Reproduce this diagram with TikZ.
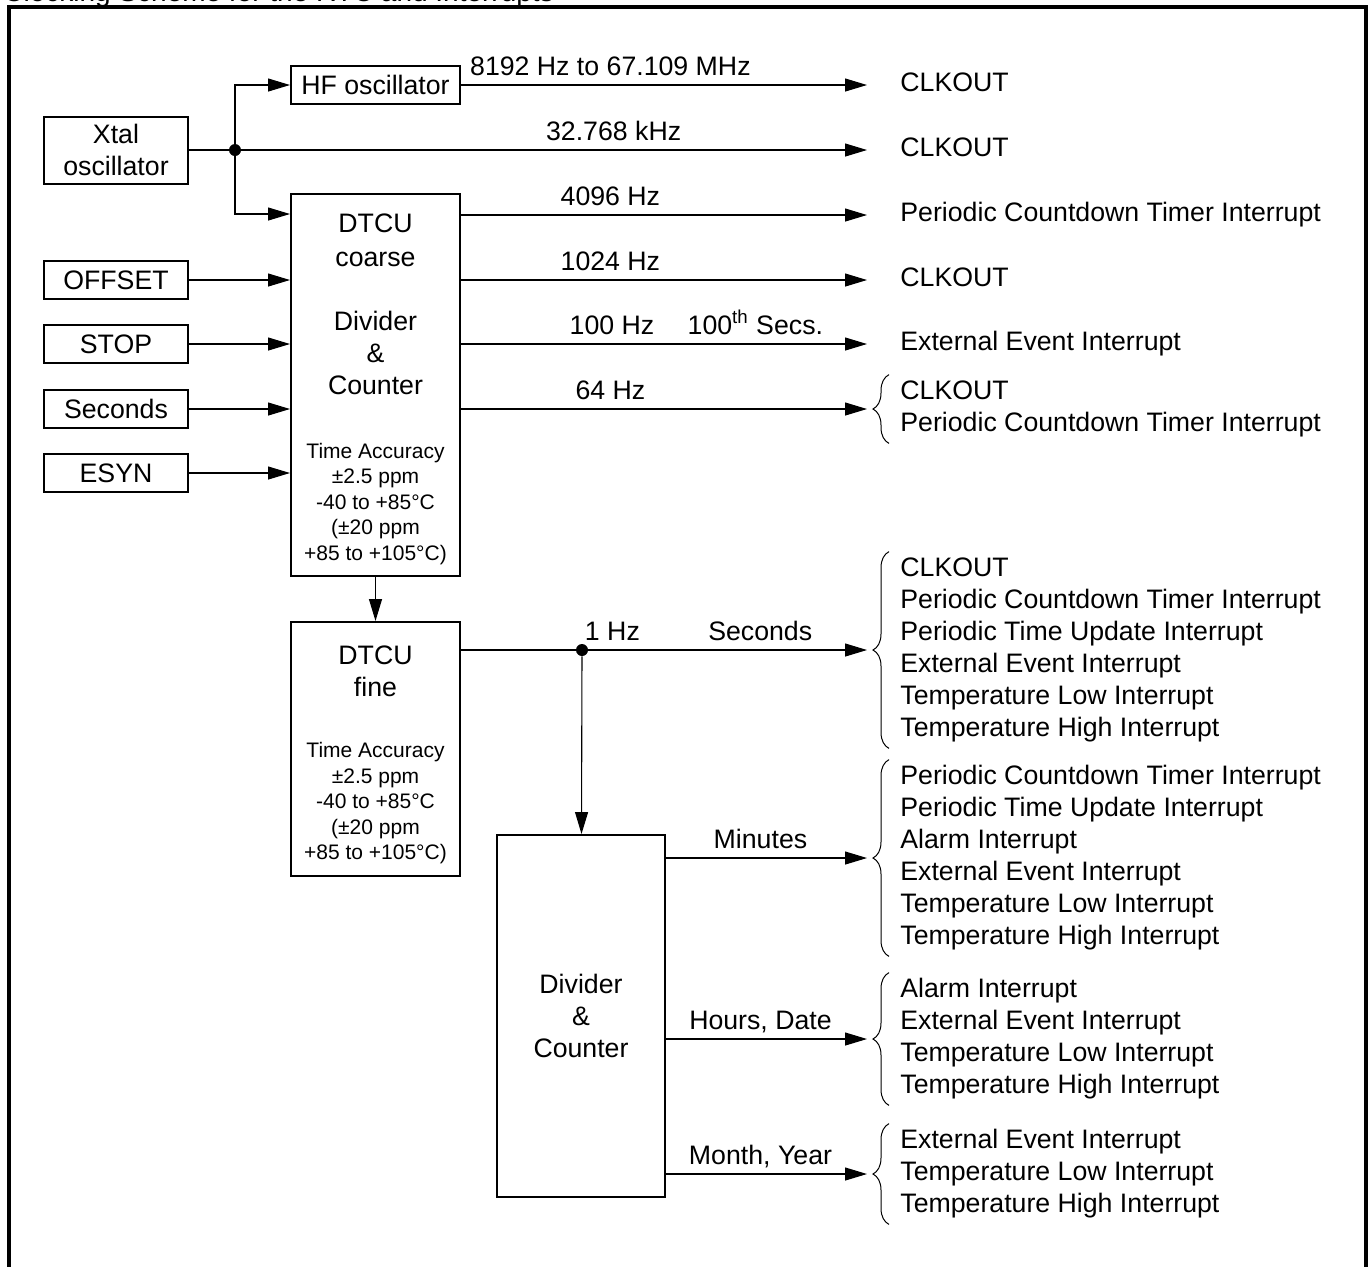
\documentclass[tikz,border=0pt]{standalone}
\usepackage{fontspec}
\setmainfont{Liberation Sans}
\usetikzlibrary{arrows.meta,calc,decorations.pathreplacing}

\newcommand{\acc}[1]{{\fontsize{10.5}{12.75}\selectfont #1}}
\tikzset{
  box/.style={draw, line width=1pt, minimum width=72pt, minimum height=19pt, inner sep=0pt, align=center, font=\fontsize{13.35}{16}\selectfont},
  blk/.style={box, minimum width=84.5pt},
  sig/.style={line width=0.55pt},
  arr/.style={sig, -{Triangle[length=11pt, width=6.5pt]}},
  junc/.style={circle, fill, inner sep=0pt, minimum size=6pt},
  lbl/.style={anchor=base, yshift=5pt, inner sep=0pt, font=\fontsize{13.35}{16}\selectfont},
  sink/.style={anchor=west, inner xsep=16.5pt, inner ysep=1pt, text height=9.6pt, text depth=2.8pt, font=\fontsize{13.35}{16}\selectfont},
  grp/.style={anchor=west, inner xsep=16.5pt, inner ysep=1pt, align=left, minimum height=#1*16pt+2pt, font=\fontsize{13.35}{16}\selectfont},
  brc/.style={decorate, decoration={brace, amplitude=8pt}, line width=0.5pt}
}

\begin{document}
\begin{tikzpicture}[x=0.5pt, y=-0.5pt]
\useasboundingbox (0,0) rectangle (1371,1266);
\node[anchor=base west, inner sep=0pt, font=\fontsize{14}{17}\selectfont] (title) at (3,1.5) {Clocking Scheme for the RTC and Interrupts};
\draw[line width=1.75pt] (9,1275) -- (9,7) -- (1366,7) -- (1366,1275);

\node[box, minimum height=33.5pt] (xtal) at (116,150) {Xtal\\oscillator};
\node[blk] (hf) at (375.5,85) {HF oscillator};
\node[box] (offset) at (116,280) {OFFSET};
\node[box] (stop) at (116,344) {STOP};
\node[box] (secs) at (116,409) {Seconds};
\node[box] (esyn) at (116,473) {ESYN};
\node[blk, minimum height=191pt] (coarse) at (375.5,385) {\\[-2.5pt]DTCU\\[1pt]coarse\\[16pt]Divider\\\&\\Counter\\[16pt]\acc{Time Accuracy}\\[-3.25pt]\acc{±2.5 ppm}\\[-3.25pt]\acc{-40 to +85°C}\\[-3.25pt]\acc{(±20 ppm}\\[-3.25pt]\acc{+85 to +105°C)}};
\node[blk, minimum height=127pt] (fine) at (375.5,749) {\\[-0.5pt]DTCU\\fine\\[14.5pt]\acc{Time Accuracy}\\[-3.25pt]\acc{±2.5 ppm}\\[-3.25pt]\acc{-40 to +85°C}\\[-3.25pt]\acc{(±20 ppm}\\[-3.25pt]\acc{+85 to +105°C)}};
\node[blk, minimum width=84pt, minimum height=181pt] (div) at (581,1016) {Divider\\\&\\Counter};
\node[junc] (j1) at (235,150) {};
\node[junc] (j2) at (582,650) {};

\node[sink] (o1) at (867,85) {CLKOUT};
\node[sink] (o2) at (867,150) {CLKOUT};
\node[sink] (o3) at (867,215) {Periodic Countdown Timer Interrupt};
\node[sink] (o4) at (867,280) {CLKOUT};
\node[sink] (o5) at (867,344) {External Event Interrupt};
\node[grp=2] (g1) at (867,409) {CLKOUT\\Periodic Countdown Timer Interrupt};
\node[grp=6] (s1) at (867,650) {CLKOUT\\Periodic Countdown Timer Interrupt\\Periodic Time Update Interrupt\\External Event Interrupt\\Temperature Low Interrupt\\Temperature High Interrupt};
\node[grp=6] (m1) at (867,858) {Periodic Countdown Timer Interrupt\\Periodic Time Update Interrupt\\Alarm Interrupt\\External Event Interrupt\\Temperature Low Interrupt\\Temperature High Interrupt};
\node[grp=4] (h1) at (867,1039) {Alarm Interrupt\\External Event Interrupt\\Temperature Low Interrupt\\Temperature High Interrupt};
\node[grp=3] (y1) at (867,1174) {External Event Interrupt\\Temperature Low Interrupt\\Temperature High Interrupt};

\draw[sig] (xtal) -- (j1);
\draw[arr] (j1) |- (hf);
\draw[arr] (j1) |- ($(coarse.north west)+(0,21)$);
\draw[arr] (hf) -- node[lbl, pos=0.368] {8192 Hz to 67.109 MHz} (o1);
\draw[arr] (j1) -- node[lbl, pos=0.595] {32.768 kHz} (o2);
\draw[arr] (offset) -- (offset -| coarse.west);
\draw[arr] (stop) -- (stop -| coarse.west);
\draw[arr] (secs) -- (secs -| coarse.west);
\draw[arr] (esyn) -- (esyn -| coarse.west);
\draw[arr] (coarse.east |- o3) -- node[lbl, pos=0.368] {4096 Hz} (o3);
\draw[arr] (coarse.east |- o4) -- node[lbl, pos=0.368] {1024 Hz} (o4);
\draw[arr] (coarse.east |- o5) -- node[lbl, pos=0.372] {100 Hz} node[lbl, pos=0.725] {100\textsuperscript{th} Secs.} (o5);
\draw[arr] (coarse.east |- g1) -- node[lbl, pos=0.368] {64 Hz} (g1);
\draw[arr] (coarse) -- (fine);
\draw[arr] (j2 -| fine.east) -- node[lbl, pos=0.373] {1 Hz} node[lbl, pos=0.737] {Seconds} (s1);
\draw[arr] (j2) -- (div);
\draw[arr] (div.east |- m1) -- node[lbl, pos=0.47] {Minutes} (m1);
\draw[arr] (div.east |- h1) -- node[lbl, pos=0.47] {Hours, Date} (h1);
\draw[arr] (div.east |- y1) -- node[lbl, pos=0.47] {Month, Year} (y1);

\draw[brc] ([xshift=11pt]g1.south west) -- ([xshift=11pt]g1.north west);
\draw[brc] ([xshift=11pt]s1.south west) -- ([xshift=11pt]s1.north west);
\draw[brc] ([xshift=11pt]m1.south west) -- ([xshift=11pt]m1.north west);
\draw[brc] ([xshift=11pt]h1.south west) -- ([xshift=11pt]h1.north west);
\draw[brc] ([xshift=11pt]y1.south west) -- ([xshift=11pt]y1.north west);
\end{tikzpicture}
\end{document}
